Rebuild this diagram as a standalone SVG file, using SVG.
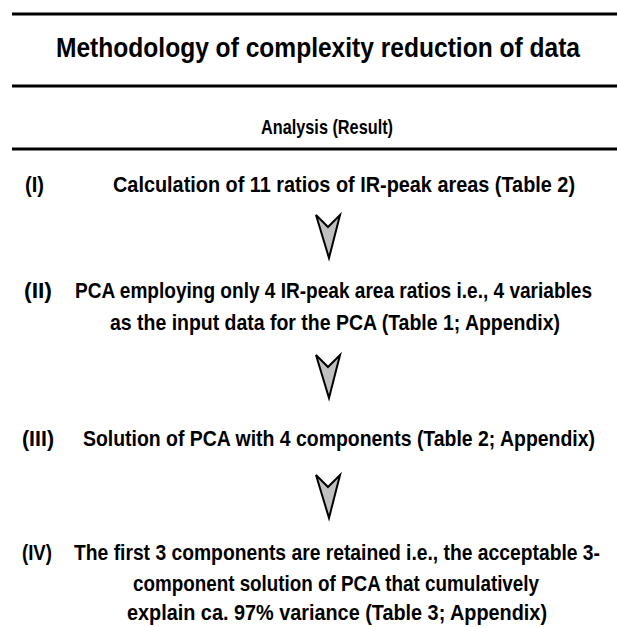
<svg xmlns="http://www.w3.org/2000/svg" width="617" height="627" viewBox="0 0 617 627">
  <style>
    text { font-family: "Liberation Sans", Arial, sans-serif; font-weight: bold; fill: #000; }
    .title { font-size: 28px; }
    .head { font-size: 20px; }
    .row { font-size: 22px; }
    .rule { stroke: #000; stroke-width: 3; }
    .arrow { fill: #c0c0c0; stroke: #000; stroke-width: 2; stroke-linejoin: miter; }
  </style>
  <defs>
    <!-- downward chevron arrow, origin at the notch's top centre -->
    <path id="down-arrow" d="M -12 0 L 0 12 L 12 0 L 1 43 Z"/>
  </defs>

  <!-- all texts use a condensed (horizontally scaled) bold face -->
  <g id="header">
    <line class="rule" x1="12" y1="14" x2="617" y2="14"/>
    <text class="title" transform="translate(318 57) scale(0.85 1)" text-anchor="middle" textLength="616.5" lengthAdjust="spacingAndGlyphs">Methodology of complexity reduction of data</text>
    <line class="rule" x1="12" y1="86" x2="617" y2="86"/>
    <text class="head" transform="translate(327 134) scale(0.85 1)" text-anchor="middle" textLength="155.3" lengthAdjust="spacingAndGlyphs">Analysis (Result)</text>
    <line class="rule" x1="12" y1="149" x2="617" y2="149"/>
  </g>

  <g id="step-1">
    <text class="row" transform="translate(25 192) scale(0.8 1)" textLength="23.8" lengthAdjust="spacingAndGlyphs">(I)</text>
    <text class="row" transform="translate(113 192) scale(0.8 1)" textLength="577.5" lengthAdjust="spacingAndGlyphs">Calculation of 11 ratios of IR-peak areas (Table 2)</text>
  </g>

  <g id="step-2">
    <text class="row" transform="translate(24 298) scale(0.8 1)" textLength="35" lengthAdjust="spacingAndGlyphs">(II)</text>
    <text class="row" transform="translate(75 298) scale(0.8 1)" textLength="646.3" lengthAdjust="spacingAndGlyphs">PCA employing only 4 IR-peak area ratios i.e., 4 variables</text>
    <text class="row" transform="translate(110 330) scale(0.8 1)" textLength="562.5" lengthAdjust="spacingAndGlyphs">as the input data for the PCA (Table 1; Appendix)</text>
  </g>

  <g id="step-3">
    <text class="row" transform="translate(22 446) scale(0.8 1)" textLength="40" lengthAdjust="spacingAndGlyphs">(III)</text>
    <text class="row" transform="translate(83 446) scale(0.8 1)" textLength="640" lengthAdjust="spacingAndGlyphs">Solution of PCA with 4 components (Table 2; Appendix)</text>
  </g>

  <g id="step-4">
    <text class="row" transform="translate(22 560) scale(0.8 1)" textLength="37.5" lengthAdjust="spacingAndGlyphs">(IV)</text>
    <text class="row" transform="translate(74 560) scale(0.8 1)" textLength="657.5" lengthAdjust="spacingAndGlyphs">The first 3 components are retained i.e., the acceptable 3-</text>
    <text class="row" transform="translate(133 591) scale(0.8 1)" textLength="507.5" lengthAdjust="spacingAndGlyphs">component solution of PCA that cumulatively</text>
    <text class="row" transform="translate(127 620) scale(0.8 1)" textLength="525" lengthAdjust="spacingAndGlyphs">explain ca. 97% variance (Table 3; Appendix)</text>
  </g>

  <g id="connectors">
    <use href="#down-arrow" class="arrow" transform="translate(328 215)"/>
    <use href="#down-arrow" class="arrow" transform="translate(328 355)"/>
    <use href="#down-arrow" class="arrow" transform="translate(328 475)"/>
  </g>
</svg>
